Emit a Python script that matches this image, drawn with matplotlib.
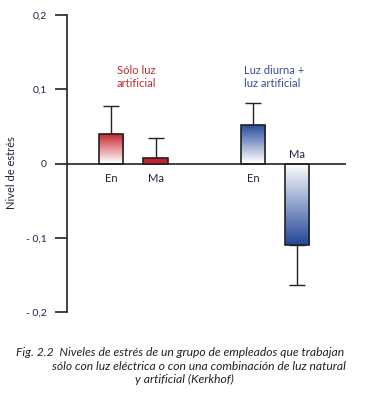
import numpy as np
import matplotlib.pyplot as plt
from matplotlib.colors import LinearSegmentedColormap

# Data
groups = ["Sólo luz\nartificial", "Luz diurna +\nluz artificial"]
bar_labels = ["En", "Ma", "En", "Ma"]
values = [0.040, 0.007, 0.052, -0.110]
errors = [0.038, 0.028, 0.030, 0.054]
positions = [1.0, 2.0, 4.2, 5.2]
yticks = [0.2, 0.1, 0.0, -0.1, -0.2]
ytick_labels = ["0,2", "0,1", "0", "- 0,1", "- 0,2"]
caption = ["Fig. 2.2  Niveles de estrés de un grupo de empleados que trabajan",
           "sólo con luz eléctrica o con una combinación de luz natural",
           "y artificial (Kerkhof)"]

red = "#c8202a"
blue = "#23479a"
navy = "#1f2540"
plt.rcParams['font.family'] = ['Lato', 'DejaVu Sans']

fig = plt.figure(figsize=(3.73, 4.04), dpi=100)
W, H = 373, 404
ax = fig.add_axes([67 / W, (H - 312) / H, (346 - 67) / W, (312 - 15) / H])
ax.set_xlim(0, 6.3)
ax.set_ylim(-0.2, 0.2)

width = 0.55
colors = [red, red, blue, blue]
bars = ax.bar(positions, values, width=width, color="none",
              edgecolor="#222222", linewidth=1.2, zorder=3)

# gradient fills: white at zero, full colour at the far end
for b, v, c in zip(bars, values, colors):
    cmap = LinearSegmentedColormap.from_list("g", ["white", c])
    grad = np.linspace(0, 1, 100).reshape(-1, 1)
    if abs(v) < 0.01:
        grad = np.ones((2, 1))
    x0 = b.get_x()
    x1 = x0 + b.get_width()
    im = ax.imshow(grad, cmap=cmap, vmin=0, vmax=1, aspect="auto",
                   extent=[x0, x1, 0, v], origin="lower", zorder=2)
    im.set_clip_path(b)

# error bars on the outer side only
for x, v, e in zip(positions, values, errors):
    sign = 1 if v >= 0 else -1
    ax.errorbar(x, v, yerr=[[0], [e]] if sign > 0 else [[e], [0]],
                fmt="none", ecolor="#222222", elinewidth=1.0,
                capsize=6, capthick=1.0, zorder=1)

ax.axhline(0, color="#222222", linewidth=1.2, zorder=4)

# bar labels
for x, v, lab in zip(positions, values, bar_labels):
    y = -0.02 if v >= 0 else 0.012
    ax.text(x, y, lab, ha="center", va="center", fontsize=8, color=navy)

ax.text(1.13, 0.116, groups[0], ha="left", va="center", fontsize=8,
        color="#c0272d", linespacing=1.2)
ax.text(4.0, 0.116, groups[1], ha="left", va="center", fontsize=8,
        color="#3b4a9b", linespacing=1.2)

for s in ["top", "right", "bottom"]:
    ax.spines[s].set_visible(False)
ax.spines["left"].set_color("#222222")
ax.spines["left"].set_linewidth(1.2)
ax.set_xticks([])
ax.set_yticks(yticks)
ax.set_yticklabels(ytick_labels)
ax.tick_params(axis="y", length=8.6, width=1.2, color="#222222",
               labelsize=7.5, labelcolor=navy, pad=6)
ax.set_ylabel("Nivel de estrés", fontsize=8, color=navy)
ax.yaxis.set_label_coords(-50 / 279, 0.47)

lefts = [16, 52, 135]
for i, (line, xl) in enumerate(zip(caption, lefts)):
    fig.text(xl / W, 1 - (353 + 13 * i) / H, line, ha="left", va="center",
             fontsize=8.7, style="italic", color="#222222")

fig.savefig("out.png", dpi=100)
